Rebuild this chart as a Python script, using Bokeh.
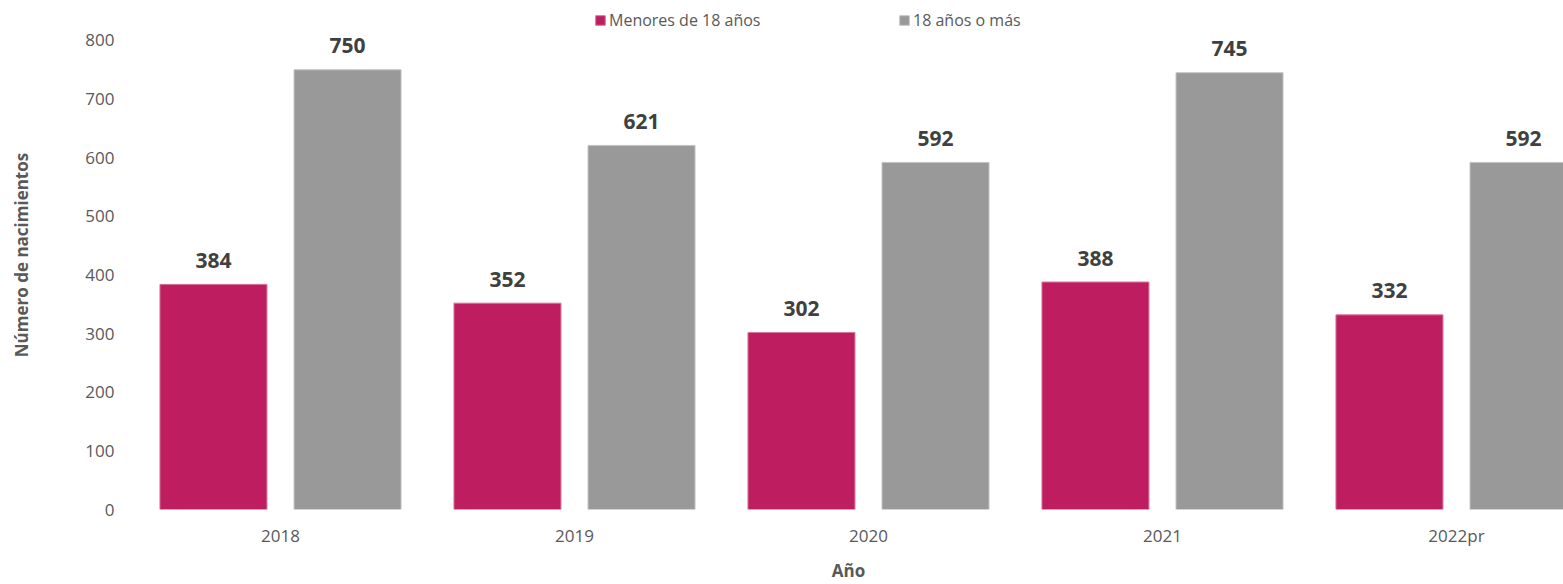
from bokeh.plotting import figure
from bokeh.models import ColumnDataSource, Range1d, FixedTicker, Legend, LegendItem
from bokeh.embed import file_html
from bokeh.resources import INLINE
from bokeh.core.properties import value

years = ["2018", "2019", "2020", "2021", "2022pr"]
menores = [384, 352, 302, 388, 332]
mayores = [750, 621, 592, 745, 592]
y_ticks = [0, 100, 200, 300, 400, 500, 600, 700, 800]

PINK = "#BE1E5F"
GRAY = "#999999"
FONT = "Open Sans"

idx = list(range(len(years)))
src = ColumnDataSource(dict(
    x_m=[i - 0.228 for i in idx], x_g=[i + 0.228 for i in idx],
    menores=menores, mayores=mayores,
    lab_m=[str(v) for v in menores], lab_g=[str(v) for v in mayores],
))

p = figure(width=1563, height=584, output_backend="svg", toolbar_location=None,
           x_range=Range1d(-0.5, 4.364), y_range=Range1d(0, 868.2),
           min_border_left=133, min_border_right=0, min_border_top=0, min_border_bottom=75)
p.outline_line_color = None
p.xgrid.visible = False
p.ygrid.visible = False

r_m = p.vbar(x="x_m", top="menores", width=0.364, source=src, fill_color=PINK,
             line_color="#D9779B", line_width=1)
r_g = p.vbar(x="x_g", top="mayores", width=0.364, source=src, fill_color=GRAY,
             line_color="#C4C4C4", line_width=1)

for xc, yc, lc in (("x_m", "menores", "lab_m"), ("x_g", "mayores", "lab_g")):
    p.text(x=xc, y=yc, text=lc, source=src, text_align="center", text_baseline="middle",
           y_offset=-24, text_font=value(FONT), text_font_style="bold",
           text_font_size="21px", text_color="#404040")

# axes
p.yaxis.ticker = FixedTicker(ticks=y_ticks)
p.xaxis.ticker = FixedTicker(ticks=idx)
p.xaxis.major_label_overrides = {i: y for i, y in enumerate(years)}
for ax in (p.xaxis[0], p.yaxis[0]):
    ax.axis_line_color = None
    ax.major_tick_line_color = None
    ax.minor_tick_line_color = None
    ax.major_tick_in = 0
    ax.major_tick_out = 0
    ax.major_label_text_font = FONT
    ax.major_label_text_font_size = "17px"
    ax.major_label_text_color = "#595959"
    ax.axis_label_text_font = FONT
    ax.axis_label_text_font_style = "bold"
    ax.axis_label_text_font_size = "17px"
    ax.axis_label_text_color = "#595959"

p.yaxis.axis_label = "Número de nacimientos"
p.yaxis.major_label_standoff = 19
p.yaxis.axis_label_standoff = 49
p.xaxis.axis_label = "Año"
p.xaxis.major_label_standoff = 14
p.xaxis.axis_label_standoff = 9

legend = Legend(items=[LegendItem(label="Menores de 18 años", renderers=[r_m]),
                       LegendItem(label="18 años o más", renderers=[r_g])],
                orientation="horizontal", location=(461, 478),
                glyph_width=12, glyph_height=12, label_standoff=3, spacing=0,
                label_width=289, padding=0, margin=0,
                border_line_color=None, background_fill_alpha=0,
                label_text_font=FONT, label_text_font_size="16px",
                label_text_color="#595959")
p.add_layout(legend)

open("out.html", "w").write(file_html(p, INLINE))
